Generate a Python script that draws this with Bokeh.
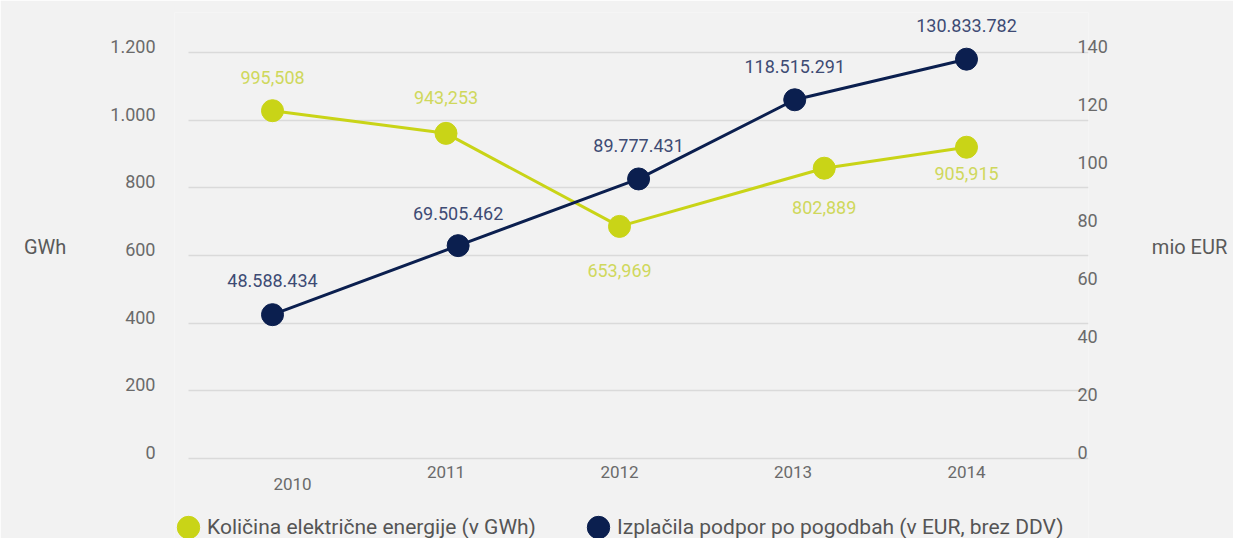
from bokeh.plotting import figure
from bokeh.models import (Range1d, LinearAxis, FixedTicker, Grid, Legend, LegendItem,
                          ColumnDataSource)
from bokeh.embed import file_html
from bokeh.resources import INLINE
from bokeh.core.properties import value

# ---------------- data ----------------
years = [2010, 2011, 2012, 2013, 2014]
year_labels = ["2010", "2011", "2012", "2013", "2014"]

energy_x = [2010, 2011, 2012, 2013.18, 2014]
energy_gwh = [1028, 961, 686, 858, 920]
energy_labels = ["995,508", "943,253", "653,969", "802,889", "905,915"]

support_x = [2010, 2011.07, 2012.11, 2013.01, 2014]
support_meur = [49.6, 73.4, 96.4, 123.7, 137.7]
support_labels = ["48.588.434", "69.505.462", "89.777.431", "118.515.291", "130.833.782"]

left_ticks = [0, 200, 400, 600, 800, 1000, 1200]
left_tick_labels = ["0", "200", "400", "600", "800", "1.000", "1.200"]
right_ticks = [0, 20, 40, 60, 80, 100, 120, 140]

# ---------------- styling ----------------
FONT = "Roboto"
BG = "#f2f2f2"
YEL = "#c9d417"
YEL_TXT = "#cfd85c"
NAVY = "#0b1f4f"
NAVY_TXT = "#3e4b74"
TICK_TXT = "#6a6a6a"
GRID = "#dadada"

energy_label_dy = [-33, -36, 44, 39, 26]   # label offsets (px, down positive)
support_label_dy = [-34, -32, -33, -33, -34]
year_label_dx = [20, 0, 0, 0, 0]
year_label_dy = [25, 13, 13, 13, 13]

W, H = 1233, 538
grid_h = 406           # px spanned by 0..1200
top_pad = 40           # px above the top grid line
bottom_pad = 80        # px below the zero line (year labels + legend)
lab_shift_px = 6       # tick labels sit slightly above their grid lines
px_per_year = 173.5
x0_px, grid_left_px, grid_right_px = 272, 188, 1088
tick_label_right_px = 155

has_cross_bounds = "cross_bounds" in Grid.properties()
frame_left_px = 174 if has_cross_bounds else grid_left_px

x_start = years[0] - (x0_px - frame_left_px) / px_per_year
x_end = years[0] + (grid_right_px - x0_px) / px_per_year
grid_x0 = years[0] - (x0_px - grid_left_px) / px_per_year

y_start = -left_ticks[-1] * bottom_pad / grid_h
y_end = left_ticks[-1] * (grid_h + top_pad) / grid_h
r_start = -right_ticks[-1] * bottom_pad / grid_h
r_end = right_ticks[-1] * (grid_h + top_pad) / grid_h
dL = lab_shift_px * left_ticks[-1] / grid_h
dR = lab_shift_px * right_ticks[-1] / grid_h

p = figure(width=W, height=H,
           x_range=Range1d(x_start, x_end),
           y_range=Range1d(y_start, y_end),
           x_axis_location=None, y_axis_location=None,
           output_backend="svg", toolbar_location=None,
           min_border_left=frame_left_px, min_border_right=W - grid_right_px,
           min_border_top=12, min_border_bottom=0,
           background_fill_color=BG, border_fill_color=BG,
           outline_line_color=None)

p.extra_y_ranges = {
    "eur": Range1d(r_start, r_end),
    "lblL": Range1d(y_start - dL, y_end - dL),
    "lblR": Range1d(r_start - dR, r_end - dR),
}

# remove default grids, add own horizontal grid
p.center = [r for r in p.center if not isinstance(r, Grid)]
grid = Grid(dimension=1, ticker=FixedTicker(ticks=left_ticks),
            grid_line_color=GRID, grid_line_width=1.5)
if has_cross_bounds:
    grid.cross_bounds = (grid_x0, x_end)
p.add_layout(grid)

# left axis
la = LinearAxis(y_range_name="lblL", ticker=FixedTicker(ticks=left_ticks),
                major_label_overrides={t: s for t, s in zip(left_ticks, left_tick_labels)},
                axis_line_color=None, major_tick_line_color=None, minor_tick_line_color=None,
                major_tick_out=0, major_tick_in=0,
                major_label_standoff=frame_left_px - tick_label_right_px,
                major_label_text_font=FONT,
                major_label_text_font_size="18px", major_label_text_color=TICK_TXT,
                axis_label="GWh\n\n", axis_label_orientation="horizontal",
                axis_label_standoff=41, axis_label_text_font=FONT,
                axis_label_text_font_size="20px", axis_label_text_font_style="normal",
                axis_label_text_color="#5a5a5a")
p.add_layout(la, "left")

# right axis
ra = LinearAxis(y_range_name="lblR", ticker=FixedTicker(ticks=right_ticks),
                axis_line_color=None, major_tick_line_color=None, minor_tick_line_color=None,
                major_tick_out=0, major_tick_in=0,
                major_label_standoff=-11, major_label_text_font=FONT,
                major_label_text_font_size="18px", major_label_text_color=TICK_TXT,
                axis_label="mio EUR\n\n", axis_label_orientation="horizontal",
                axis_label_standoff=41, axis_label_text_font=FONT,
                axis_label_text_font_size="20px", axis_label_text_font_style="normal",
                axis_label_text_color="#5a5a5a")
p.add_layout(ra, "right")

# year labels (category axis)
ys = ColumnDataSource(dict(x=years, y=[0] * len(years), lab=year_labels,
                           dx=year_label_dx, dy=year_label_dy))
p.text("x", "y", text="lab", source=ys, x_offset="dx", y_offset="dy",
       text_align="center", text_baseline="middle",
       text_font=value(FONT), text_font_size="17px", text_color=TICK_TXT)

# data sources
es = ColumnDataSource(dict(x=energy_x, y=energy_gwh, lab=energy_labels, dy=energy_label_dy))
ss = ColumnDataSource(dict(x=support_x, y=support_meur, lab=support_labels, dy=support_label_dy))

p.line("x", "y", source=es, line_color=YEL, line_width=3)
r_e = p.ellipse("x", "y", source=es, width=22, height=22,
                width_units="screen", height_units="screen",
                fill_color=YEL, line_color=YEL)
p.text("x", "y", text="lab", source=es, y_offset="dy",
       text_align="center", text_baseline="middle",
       text_font=value(FONT), text_font_size="18px", text_color=YEL_TXT)

p.line("x", "y", source=ss, y_range_name="eur", line_color=NAVY, line_width=3)
r_s = p.ellipse("x", "y", source=ss, y_range_name="eur", width=22, height=22,
                width_units="screen", height_units="screen",
                fill_color=NAVY, line_color=NAVY)
p.text("x", "y", text="lab", source=ss, y_range_name="eur", y_offset="dy",
       text_align="center", text_baseline="middle",
       text_font=value(FONT), text_font_size="18px", text_color=NAVY_TXT)

legend = Legend(items=[
    LegendItem(label="Količina električne energije (v GWh)", renderers=[r_e]),
    LegendItem(label="Izplačila podpor po pogodbah (v EUR, brez DDV)", renderers=[r_s]),
], orientation="horizontal", location=(0, -3),
    glyph_width=28, glyph_height=28, label_standoff=5, label_width=335, spacing=42,
    padding=0, margin=0, background_fill_alpha=0, border_line_color=None,
    label_text_font=FONT, label_text_font_size="21px", label_text_color="#555555")
p.add_layout(legend)

open("out.html", "w").write(file_html(p, INLINE))
